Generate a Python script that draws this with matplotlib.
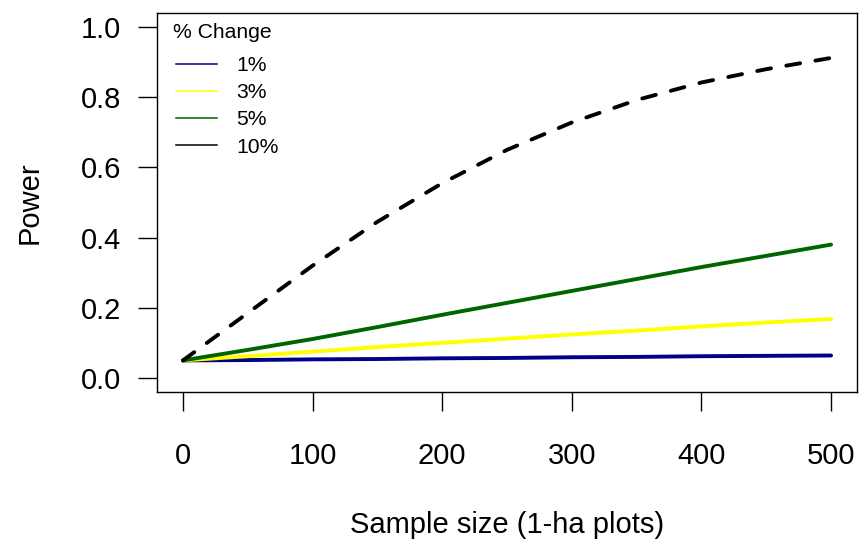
import matplotlib
matplotlib.use("Agg")
import matplotlib.pyplot as plt
from matplotlib.lines import Line2D

plt.rcParams['font.family'] = ['Liberation Sans', 'DejaVu Sans']

# Sample sizes (number of 1-ha plots)
sample_size = [0, 50, 100, 150, 200, 250, 300, 350, 400, 450, 500]

# Statistical power by percent change
power_1 = [0.050, 0.051, 0.053, 0.054, 0.056, 0.057, 0.059, 0.060, 0.062, 0.063, 0.064]
power_3 = [0.050, 0.062, 0.075, 0.088, 0.100, 0.112, 0.124, 0.135, 0.147, 0.158, 0.168]
power_5 = [0.050, 0.080, 0.111, 0.145, 0.180, 0.214, 0.248, 0.282, 0.316, 0.348, 0.380]
power_10 = [0.050, 0.185, 0.320, 0.445, 0.555, 0.650, 0.728, 0.792, 0.842, 0.880, 0.912]

legend_title = "% Change"
legend_labels = ["1%", "3%", "5%", "10%"]
colors = ["#00008B", "#FFFF00", "#006400", "#000000"]

W, H = 859, 539
fig = plt.figure(figsize=(W / 100, H / 100), dpi=100)
ax = fig.add_axes([157 / W, 1 - 392 / H, 700 / W, 379 / H])

LW = 2.8
ax.plot(sample_size, power_1, color=colors[0], lw=LW, solid_capstyle='round')
ax.plot(sample_size, power_3, color=colors[1], lw=LW, solid_capstyle='round')
ax.plot(sample_size, power_5, color=colors[2], lw=LW, solid_capstyle='round')
ax.plot(sample_size, power_10, color=colors[3], lw=LW, dashes=(3.6, 4.0),
        dash_capstyle='round')

ax.set_xlim(-20, 520)
ax.set_ylim(-0.04, 1.04)
ax.set_xticks([0, 100, 200, 300, 400, 500])
ax.set_yticks([0.0, 0.2, 0.4, 0.6, 0.8, 1.0])
ax.set_yticklabels(["0.0", "0.2", "0.4", "0.6", "0.8", "1.0"])

for s in ax.spines.values():
    s.set_linewidth(1.0)
ax.tick_params(axis='both', labelsize=21, length=13.7, width=1.0, direction='out')
ax.tick_params(axis='x', pad=22)
ax.tick_params(axis='y', pad=12)

ax.set_ylabel("Power", fontsize=21, labelpad=27)
ax.set_xlabel("Sample size (1-ha plots)", fontsize=21, labelpad=30)

# Legend: title drawn as text, entries as a frameless legend below it
ax.text((173 - 157) / 700, (392 - 32) / 379, legend_title, transform=ax.transAxes,
        fontsize=15.2, ha='left', va='center')
handles = [Line2D([0], [0], color=c, lw=1.1) for c in colors]
ax.legend(handles, legend_labels, loc='upper left', frameon=False,
          fontsize=15.2, handlelength=1.95, handletextpad=0.9,
          labelspacing=0.39, borderaxespad=0, borderpad=0,
          bbox_to_anchor=((176 - 157) / 700, (392 - 56) / 379))

fig.savefig("out.png", dpi=100)
